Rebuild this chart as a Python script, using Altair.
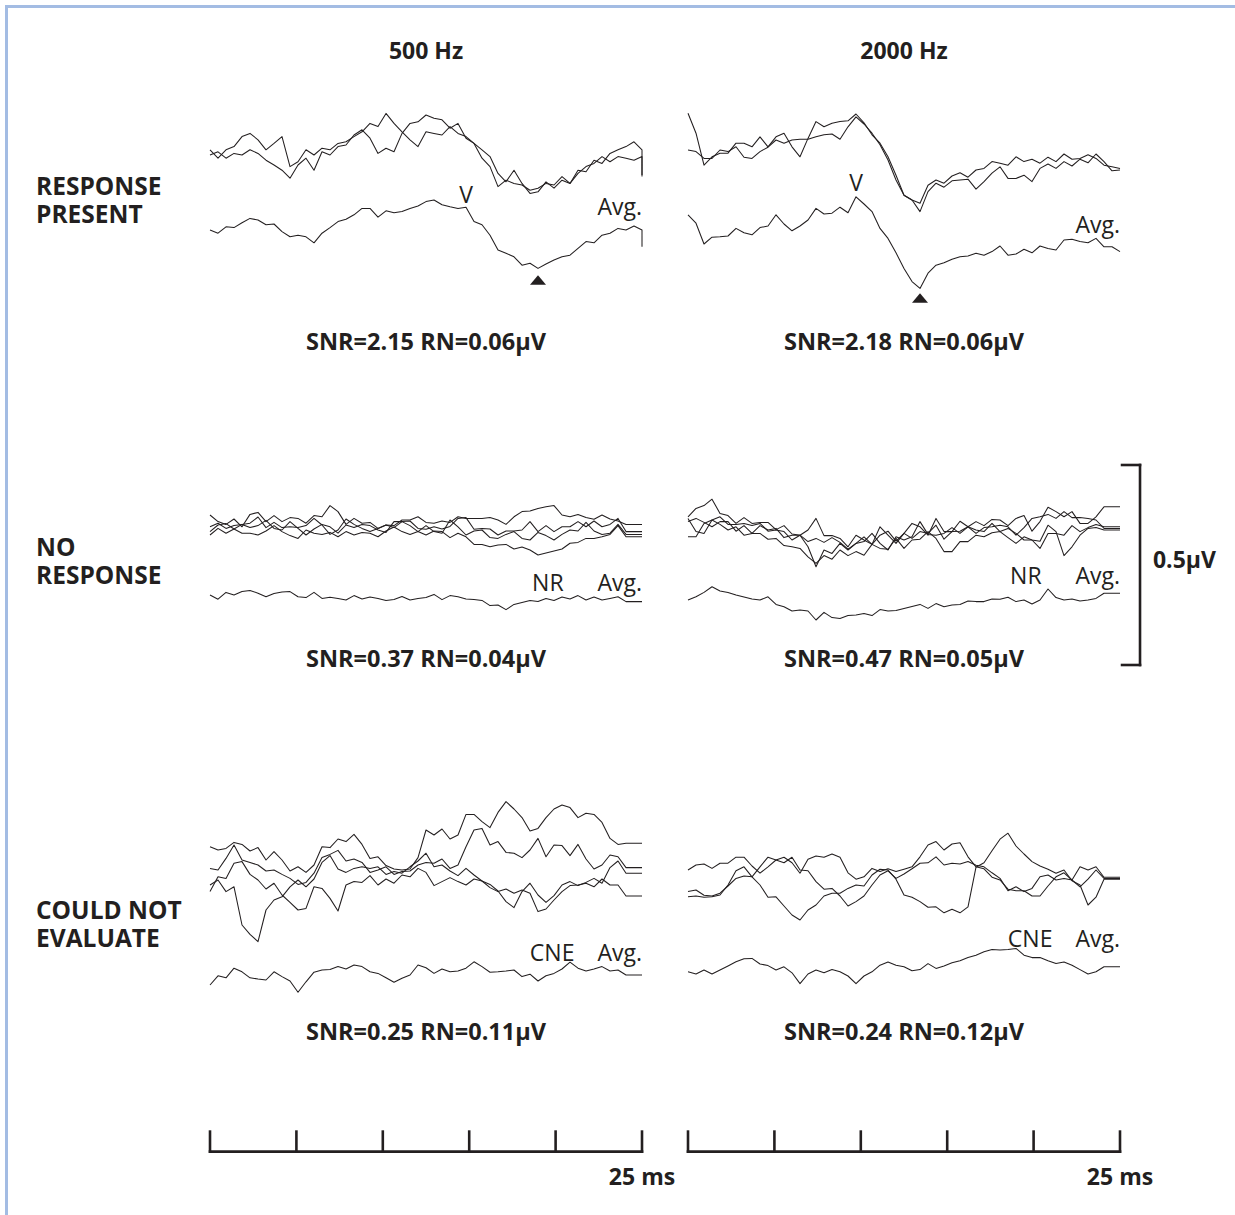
import altair as alt
import numpy as np
import pandas as pd

# ---------------------------------------------------------------------------
# Auditory brainstem recordings: replicate sweeps plus their average (Avg.),
# 25 ms epochs, amplitudes in microvolts relative to each trace's own level.
# ---------------------------------------------------------------------------
N_SAMPLES = 55
SWEEP_MS = 25.0
t_ms = np.linspace(0.0, SWEEP_MS, N_SAMPLES)

# 500 Hz – response present (last value: pen drop at end of sweep)
p1_rep_a = [0.013, -0.008, 0.013, 0.021, 0.046, 0.054, 0.038, 0.013, 0.029, 0.046, -0.029, -0.017, 0.013, 0.0,
            0.017, 0.013, 0.029, 0.033, 0.046, 0.058, 0.079, 0.071, 0.104, 0.079, 0.058, 0.038, 0.021, 0.058,
            0.054, 0.05, 0.071, 0.054, 0.046, 0.029, -0.008, -0.029, -0.079, -0.063, -0.071, -0.075, -0.088,
            -0.083, -0.071, -0.075, -0.054, -0.071, -0.038, -0.042, -0.013, -0.021, 0.004, 0.013, 0.021, 0.033,
            0.013, -0.054]
p1_rep_b = [0.0, 0.008, -0.008, 0.004, 0.0, 0.013, 0.004, -0.013, -0.025, -0.038, -0.058, -0.025, -0.008, -0.038,
            0.008, 0.0, 0.021, 0.025, 0.05, 0.063, 0.042, 0.004, 0.017, 0.008, 0.054, 0.079, 0.083, 0.1, 0.092,
            0.088, 0.067, 0.079, 0.042, 0.029, 0.013, -0.004, -0.046, -0.067, -0.038, -0.071, -0.096, -0.092,
            -0.067, -0.083, -0.063, -0.071, -0.046, -0.029, -0.021, -0.004, -0.017, -0.004, -0.008, -0.013,
            -0.004, -0.05]
p1_avg = [0.0, -0.008, 0.008, 0.006, 0.018, 0.029, 0.025, 0.013, 0.015, -0.004, -0.017, -0.013, -0.017, -0.032,
          -0.008, 0.006, 0.021, 0.027, 0.038, 0.054, 0.054, 0.032, 0.048, 0.043, 0.046, 0.054, 0.06, 0.071, 0.075,
          0.063, 0.058, 0.054, 0.057, 0.021, 0.013, -0.013, -0.05, -0.058, -0.067, -0.088, -0.083, -0.096, -0.085,
          -0.075, -0.067, -0.063, -0.046, -0.029, -0.032, -0.013, -0.008, 0.004, 0.0, 0.01, 0.0, -0.042]

# 2000 Hz – response present
p2_rep_a = [0.117, 0.067, -0.013, 0.008, 0.017, 0.017, 0.042, 0.042, 0.033, 0.058, 0.033, 0.058, 0.067, 0.033,
            0.008, 0.054, 0.096, 0.083, 0.092, 0.096, 0.098, 0.115, 0.093, 0.063, 0.042, 0.008, -0.038, -0.088,
            -0.1, -0.108, -0.063, -0.05, -0.058, -0.04, -0.032, -0.043, -0.025, -0.021, -0.004, -0.008, -0.013,
            0.008, -0.004, 0.002, -0.008, 0.007, -0.004, 0.015, 0.002, 0.004, 0.013, 0.004, -0.013, -0.017, -0.021]
p2_rep_b = [0.025, 0.021, 0.004, 0.004, 0.025, 0.021, 0.033, 0.007, 0.004, 0.021, 0.032, 0.05, 0.042, 0.05, 0.052,
            0.052, 0.058, 0.063, 0.065, 0.052, 0.083, 0.108, 0.09, 0.067, 0.038, 0.0, -0.05, -0.088, -0.1, -0.129,
            -0.079, -0.058, -0.068, -0.052, -0.05, -0.048, -0.073, -0.054, -0.033, -0.017, -0.046, -0.046, -0.038,
            -0.054, -0.021, -0.01, -0.021, -0.004, -0.015, 0.002, -0.007, 0.015, -0.004, -0.027, -0.025]
p2_avg = [0.088, 0.067, 0.015, 0.032, 0.033, 0.035, 0.054, 0.043, 0.038, 0.056, 0.06, 0.088, 0.065, 0.048, 0.06,
          0.075, 0.104, 0.09, 0.092, 0.107, 0.093, 0.133, 0.115, 0.096, 0.054, 0.029, -0.007, -0.046, -0.079,
          -0.096, -0.058, -0.038, -0.032, -0.023, -0.017, -0.015, -0.008, -0.013, -0.004, 0.01, -0.013, -0.01,
          0.002, -0.007, 0.01, 0.004, 0.0, 0.025, 0.027, 0.021, 0.018, 0.029, 0.008, 0.008, -0.004]

# 500 Hz – no response
p3_rep_a = [0.0375, 0.021, 0.014, 0.0275, 0.008, 0.039, 0.044, 0.021, 0.036, 0.021, 0.031, 0.029, 0.017, 0.036,
            0.033, 0.061, 0.046, 0.014, 0.029, 0.017, 0.019, 0.004, 0.0125, 0.011, 0.025, 0.025, 0.033, 0.019,
            0.017, 0.0225, 0.019, 0.033, 0.029, 0.029, 0.029, 0.031, 0.025, 0.014, 0.033, 0.046, 0.0475, 0.054,
            0.058, 0.061, 0.0375, 0.033, 0.039, 0.031, 0.027, 0.0375, 0.0275, 0.0225, 0.014, 0.014, 0.014]
p3_rep_b = [0.008, 0.017, 0.004, 0.011, 0.014, 0.017, 0.0325, 0.006, 0.019, 0.006, 0.008, 0.006, 0.011, 0.029,
            0.0125, -0.011, 0.0, 0.0275, 0.014, 0.004, -0.004, 0.004, 0.0125, 0.006, 0.021, 0.0225, 0.004, 0.002,
            0.008, 0.0025, 0.009, 0.029, 0.031, 0.002, 0.004, 0.0025, -0.0125, -0.0025, -0.0025, 0.0, 0.021,
            -0.004, 0.011, -0.004, 0.008, 0.008, 0.021, 0.008, 0.0225, 0.008, 0.014, 0.029, -0.004, -0.004, -0.004]
p3_rep_c = [-0.0125, 0.004, -0.008, 0.0025, -0.008, -0.008, -0.0125, -0.0025, 0.011, -0.004, -0.014, -0.021, 0.0,
            -0.008, -0.011, -0.006, -0.017, -0.004, -0.0125, -0.006, -0.008, -0.017, -0.0025, 0.0075, -0.004,
            -0.011, -0.004, -0.0125, -0.0025, -0.004, -0.019, -0.008, -0.017, -0.036, -0.036, -0.042, -0.0375,
            -0.036, -0.0475, -0.0425, -0.05, -0.0625, -0.0575, -0.0525, -0.0475, -0.033, -0.031, -0.021, -0.021,
            -0.017, -0.011, 0.011, -0.017, -0.017, -0.017]
p3_rep_d = [-0.004, 0.0125, 0.016, 0.0025, 0.014, 0.006, 0.011, 0.024, 0.004, 0.0, 0.021, 0.004, -0.0125, 0.0025,
            0.014, 0.008, -0.008, 0.0125, 0.006, 0.014, 0.011, 0.0, -0.006, 0.021, 0.021, 0.011, -0.004, 0.011,
            -0.004, -0.008, 0.025, 0.008, -0.0125, -0.0025, 0.0, -0.019, -0.021, -0.011, -0.004, -0.021, -0.025,
            -0.006, -0.014, -0.025, -0.011, 0.0, -0.0025, 0.019, -0.0025, -0.011, -0.008, 0.014, -0.011, -0.011,
            -0.011]
p3_avg = [0.0075, -0.003, 0.014, 0.0075, 0.016, 0.019, 0.012, 0.003, 0.011, 0.015, 0.016, 0.003, 0.001, 0.014,
          -0.001, 0.002, -0.001, -0.005, 0.006, -0.0025, 0.0025, -0.001, -0.006, -0.004, 0.004, -0.005, -0.001,
          0.001, 0.009, -0.004, 0.006, 0.003, -0.0025, -0.004, -0.006, -0.019, -0.0175, -0.029, -0.016, -0.011,
          -0.006, -0.009, -0.001, -0.006, 0.0025, -0.0025, 0.006, -0.005, 0.0025, -0.005, -0.001, 0.003, -0.009,
          -0.009, -0.009]

# 2000 Hz – no response
p4_rep_a = [0.029, 0.05, 0.057, 0.073, 0.0375, 0.032, 0.0125, 0.027, 0.0125, 0.015, 0.015, -0.003, 0.007, -0.014,
            -0.017, -0.004, 0.025, -0.018, -0.018, -0.025, -0.046, -0.017, -0.029, -0.04, 0.004, -0.017, -0.0375,
            -0.0125, 0.0125, 0.004, -0.017, 0.025, -0.008, -0.008, 0.018, 0.004, 0.017, 0.007, 0.0225, 0.021,
            0.007, 0.025, 0.032, -0.007, 0.017, 0.053, 0.042, 0.029, 0.042, 0.0125, 0.0125, 0.029, 0.054, 0.054,
            0.054]
p4_rep_b = [0.025, -0.008, -0.0125, 0.021, 0.029, 0.01, 0.01, 0.0125, 0.007, 0.0125, -0.007, -0.004, -0.008,
            -0.029, -0.017, -0.046, -0.096, -0.054, -0.0625, -0.0375, -0.054, -0.0375, -0.033, -0.0125, -0.0375,
            -0.054, -0.021, -0.029, -0.021, 0.017, -0.015, -0.017, -0.0125, 0.002, -0.0125, 0.004, -0.004, -0.008,
            0.0125, -0.008, 0.0, -0.0125, -0.029, -0.029, -0.05, -0.0125, -0.0125, -0.017, 0.007, -0.008, 0.002,
            0.01, 0.004, 0.004, 0.004]
p4_rep_c = [-0.021, -0.021, 0.0125, 0.021, 0.01, -0.004, 0.004, -0.017, -0.0125, -0.0125, -0.027, -0.025, -0.043,
            -0.046, -0.05, -0.071, -0.0875, -0.068, -0.077, -0.054, -0.068, -0.058, -0.067, -0.04, -0.05, -0.052,
            -0.025, -0.05, -0.029, -0.027, -0.008, -0.025, -0.058, -0.058, -0.033, -0.033, -0.017, -0.021, -0.011,
            -0.008, -0.023, -0.0375, -0.021, -0.029, -0.032, 0.008, -0.008, -0.068, -0.046, -0.017, 0.0, 0.002,
            -0.004, -0.004, -0.004]
p4_rep_d = [0.017, 0.025, 0.015, 0.004, 0.017, 0.017, -0.007, 0.007, -0.0125, 0.007, -0.004, 0.0, -0.023, -0.017,
            -0.017, -0.033, -0.025, -0.035, -0.023, -0.035, -0.052, -0.0375, -0.021, -0.04, -0.017, -0.007, -0.032,
            -0.0125, -0.025, -0.008, -0.0125, 0.008, -0.027, -0.008, -0.007, 0.004, -0.0125, 0.002, 0.004, 0.008,
            0.004, -0.017, 0.002, 0.025, 0.029, 0.035, 0.025, 0.042, 0.027, 0.027, 0.025, 0.021, 0.0, 0.0, 0.0]
p4_avg = [0.0, 0.008, 0.019, 0.033, 0.0225, 0.019, 0.0125, 0.0075, 0.0025, 0.0, 0.008, -0.011, -0.017, -0.0275,
          -0.025, -0.0275, -0.05, -0.031, -0.044, -0.046, -0.039, -0.0375, -0.034, -0.039, -0.024, -0.0275, -0.026,
          -0.021, -0.016, -0.011, -0.021, -0.009, -0.017, -0.0125, -0.011, -0.0025, -0.004, -0.004, 0.0025, 0.002,
          0.007, -0.004, 0.0, -0.01, 0.0, 0.0275, 0.006, 0.0, 0.0025, -0.0025, 0.0, 0.004, 0.017, 0.017, 0.017]

# 500 Hz – could not evaluate
p5_rep_a = [0.058, 0.05, 0.054, 0.069, 0.064, 0.0475, 0.056, 0.025, 0.046, 0.025, -0.0025, 0.008, -0.006, 0.0125,
            0.058, 0.056, 0.0775, 0.071, 0.089, 0.064, 0.029, 0.033, 0.011, 0.0025, 0.0, 0.0025, 0.031, 0.1, 0.0875,
            0.1025, 0.0775, 0.0875, 0.139, 0.139, 0.121, 0.106, 0.144, 0.171, 0.1525, 0.131, 0.0975, 0.104, 0.131,
            0.1525, 0.1625, 0.156, 0.131, 0.142, 0.139, 0.119, 0.079, 0.064, 0.067, 0.067, 0.067]
p5_rep_b = [0.004, 0.0, 0.029, 0.0625, 0.025, 0.019, 0.0125, -0.0025, 0.0, -0.011, -0.021, -0.036, -0.031, -0.008,
            0.031, 0.039, 0.049, 0.0225, 0.0275, 0.019, -0.006, 0.0, 0.008, -0.011, -0.004, -0.0025, 0.0125, 0.019,
            0.017, 0.0275, 0.004, 0.0125, 0.058, 0.1, 0.104, 0.0625, 0.071, 0.044, 0.042, 0.031, 0.05, 0.079,
            0.033, 0.0625, 0.061, 0.036, 0.064, 0.0275, 0.0025, 0.0125, 0.0375, 0.033, 0.006, 0.006, 0.006]
p5_rep_c = [-0.0375, -0.025, -0.054, -0.042, -0.1375, -0.161, -0.179, -0.1, -0.075, -0.067, -0.042, -0.025, -0.042,
            -0.0225, 0.019, 0.036, 0.0025, -0.006, 0.004, 0.008, 0.004, 0.008, -0.011, -0.004, -0.008, 0.008,
            0.0225, 0.042, 0.008, 0.0125, -0.0025, -0.014, 0.004, -0.0125, -0.0275, -0.036, -0.0525, -0.079,
            -0.094, -0.054, -0.033, -0.0625, -0.081, -0.064, -0.0375, -0.029, -0.039, -0.031, -0.021, -0.033,
            0.006, 0.0225, -0.008, -0.008, -0.008]
p5_rep_d = [-0.054, -0.017, -0.021, 0.017, 0.021, -0.011, -0.025, -0.0475, -0.033, -0.0625, -0.081, -0.1, -0.096,
            -0.042, -0.046, -0.071, -0.1025, -0.0375, -0.029, -0.031, -0.014, -0.0375, -0.0225, -0.033, -0.0125,
            -0.017, 0.004, -0.006, -0.039, -0.029, -0.019, -0.029, -0.0375, -0.0225, -0.0275, -0.044, -0.054,
            -0.0475, -0.058, -0.05, -0.058, -0.104, -0.0975, -0.075, -0.054, -0.039, -0.0375, -0.033, -0.042,
            -0.0225, -0.0375, -0.0375, -0.065, -0.065, -0.065]
p5_avg = [-0.025, -0.002, -0.007, 0.017, 0.008, -0.007, -0.01, -0.0125, 0.008, -0.004, -0.015, -0.043, -0.017,
          0.007, 0.0125, 0.014, 0.021, 0.015, 0.025, 0.021, 0.008, 0.004, -0.007, -0.018, -0.008, 0.0, 0.025,
          0.018, 0.004, 0.015, 0.008, 0.01, 0.017, 0.033, 0.021, 0.007, 0.008, 0.01, 0.0125, -0.004, 0.002, -0.015,
          -0.002, 0.004, 0.015, 0.032, 0.017, 0.01, 0.015, 0.021, 0.01, 0.0125, 0.0, 0.0, 0.0]

# 2000 Hz – could not evaluate
p6_rep_a = [0.025, 0.0375, 0.04, 0.029, 0.042, 0.042, 0.057, 0.057, 0.035, 0.017, 0.033, 0.05, 0.057, 0.043, 0.017,
            0.052, 0.06, 0.057, 0.065, 0.057, 0.018, 0.002, 0.008, 0.029, 0.021, 0.028, 0.021, 0.027, 0.033, 0.058,
            0.0875, 0.096, 0.075, 0.09, 0.093, 0.058, 0.033, 0.028, 0.007, 0.0, -0.023, -0.027, -0.027, -0.04,
            -0.04, -0.015, 0.008, 0.018, 0.0, 0.033, 0.025, 0.033, 0.007, 0.007, 0.007]
p6_rep_b = [-0.029, -0.025, -0.038, -0.04, -0.033, -0.015, 0.004, 0.01, 0.008, 0.033, 0.057, 0.05, 0.043, 0.057,
            0.025, 0.023, -0.004, -0.023, -0.021, -0.04, -0.065, -0.054, -0.04, -0.0125, 0.0125, 0.023, 0.004,
            0.015, 0.028, 0.042, 0.043, 0.058, 0.0375, 0.042, 0.04, 0.046, 0.037, 0.033, 0.018, 0.004, -0.027,
            -0.017, -0.029, -0.021, 0.008, 0.0125, 0.0, 0.004, 0.0, -0.017, 0.002, 0.025, 0.004, 0.004, 0.004]
p6_rep_c = [-0.042, -0.04, -0.043, -0.042, -0.0375, -0.0125, 0.023, 0.033, 0.008, -0.0125, -0.043, -0.042, -0.065,
            -0.0875, -0.1, -0.075, -0.0625, -0.04, -0.033, -0.033, -0.021, -0.0125, -0.015, 0.0125, 0.027, 0.025,
            0.002, -0.0375, -0.043, -0.054, -0.068, -0.067, -0.082, -0.073, -0.082, -0.067, 0.032, 0.043, 0.073,
            0.102, 0.117, 0.085, 0.065, 0.046, 0.035, 0.027, 0.017, 0.025, -0.002, -0.0125, -0.0625, -0.043, 0.002,
            0.002, 0.002]
p6_avg = [-0.0125, -0.018, -0.008, -0.018, -0.008, 0.002, 0.0125, 0.02, 0.021, 0.007, 0.003, -0.008, 0.0, -0.015,
          -0.042, -0.018, -0.008, -0.015, -0.007, -0.0125, -0.023, -0.042, -0.023, -0.0125, 0.004, 0.012, 0.004,
          0.0, -0.01, -0.007, 0.008, -0.004, 0.002, 0.01, 0.015, 0.023, 0.029, 0.0375, 0.043, 0.042, 0.043, 0.046,
          0.029, 0.023, 0.023, 0.015, 0.008, 0.012, 0.004, -0.007, -0.018, -0.0125, 0.0, 0.0, 0.0]

COLUMN_TITLES = ["500 Hz", "2000 Hz"]
ROW_TITLES = ["RESPONSE\nPRESENT", "NO\nRESPONSE", "COULD NOT\nEVALUATE"]
STATUS = ["", "NR", "CNE"]
SNR_TEXT = [
    ["SNR=2.15 RN=0.06μV", "SNR=2.18 RN=0.06μV"],
    ["SNR=0.37 RN=0.04μV", "SNR=0.47 RN=0.05μV"],
    ["SNR=0.25 RN=0.11μV", "SNR=0.24 RN=0.12μV"],
]
WAVE_V_SAMPLE = [32, 21]      # wave V latency sample (response-present row)
TROUGH_SAMPLE = [41, 29]      # following trough, marked with ▲

# ---------------------------------------------------------------------------
# Layout (time in ms, voltage in μV; page runs from 0 μV downwards)
# ---------------------------------------------------------------------------
MS_SPAN = 71.47
X_MIN = -12.153
X_MAX = X_MIN + MS_SPAN
Y_MIN, Y_MAX = -3.0375, 0.0
COL_SHIFT = [0.0, 27.662]

# (row, column, replicate sweeps, average, sweep level, average level)
PANELS = [
    (0, 0, [p1_rep_a, p1_rep_b], p1_avg, -0.3875, -0.575),
    (0, 1, [p2_rep_a, p2_rep_b], p2_avg, -0.400, -0.625),
    (1, 0, [p3_rep_a, p3_rep_b, p3_rep_c, p3_rep_d], p3_avg, -1.325, -1.495),
    (1, 1, [p4_rep_a, p4_rep_b, p4_rep_c, p4_rep_d], p4_avg, -1.321, -1.500),
    (2, 0, [p5_rep_a, p5_rep_b, p5_rep_c, p5_rep_d], p5_avg, -2.175, -2.4375),
    (2, 1, [p6_rep_a, p6_rep_b, p6_rep_c], p6_avg, -2.200, -2.417),
]
AVG_LABEL_Y = {(0, 0): -0.5375, (0, 1): -0.5825, (1, 0): -1.4775, (1, 1): -1.46, (2, 0): -2.4025, (2, 1): -2.3675}
ROW_TITLE_Y = [-0.4875, -1.39, -2.2975]
SNR_Y = [-0.875, -1.6675, -2.6]

INK = "#231f20"
FRAME = "#a3bce3"
FONT = "Open Sans"

xs = alt.Scale(domain=[X_MIN, X_MAX], nice=False, zero=False)
ys = alt.Scale(domain=[Y_MIN, Y_MAX], nice=False, zero=False)
X = alt.X("x:Q", scale=xs, axis=None)
Y = alt.Y("y:Q", scale=ys, axis=None)
X2 = alt.X2("x2:Q")
Y2 = alt.Y2("y2:Q")

# ---- waveforms ----
rows = []
for row, col, reps, avg, rep_lvl, avg_lvl in PANELS:
    for j, (vals, lvl) in enumerate([(r, rep_lvl) for r in reps] + [(avg, avg_lvl)]):
        times = list(t_ms) + [SWEEP_MS] * (len(vals) - N_SAMPLES)
        for i, (t, v) in enumerate(zip(times, vals)):
            rows.append({"trace": f"{row}-{col}-{j}", "i": i, "x": COL_SHIFT[col] + t, "y": lvl + v})
waves = pd.DataFrame(rows)

wave_layer = alt.Chart(waves).mark_line(color=INK, strokeWidth=1.05, strokeJoin="round").encode(
    x=X, y=Y, detail="trace:N", order=alt.Order("i:Q")
)


def text_layer(df, size, weight="normal", align="center", line_height=None):
    kwargs = dict(font=FONT, fontSize=size, fontWeight=weight, align=align, baseline="alphabetic", color=INK)
    if line_height is not None:
        kwargs.update(lineBreak="\n", lineHeight=line_height)
    return alt.Chart(df).mark_text(**kwargs).encode(x=X, y=Y, text="text:N")


# ---- titles ----
col_titles = pd.DataFrame({"x": [c + SWEEP_MS / 2 for c in COL_SHIFT], "y": [-0.1475, -0.1475],
                           "text": COLUMN_TITLES})
row_titles = pd.DataFrame({"x": [-10.069] * 3, "y": ROW_TITLE_Y, "text": ROW_TITLES})
snr = pd.DataFrame([
    {"x": COL_SHIFT[c] + SWEEP_MS / 2, "y": SNR_Y[r], "text": SNR_TEXT[r][c]} for r in range(3) for c in range(2)
])

# ---- trace annotations ----
avg_labels = pd.DataFrame([
    {"x": COL_SHIFT[c] + SWEEP_MS, "y": AVG_LABEL_Y[(r, c)], "text": "Avg."} for r in range(3) for c in range(2)
])
status_x = {"NR": 19.55, "CNE": 19.8}
status_labels = pd.DataFrame([
    {"x": COL_SHIFT[c] + status_x[STATUS[r]], "y": AVG_LABEL_Y[(r, c)], "text": STATUS[r]}
    for r in (1, 2) for c in range(2)
])
v_labels = pd.DataFrame({
    "x": [COL_SHIFT[c] + t_ms[WAVE_V_SAMPLE[c]] for c in range(2)],
    "y": [-0.5075, -0.4768], "text": ["V", "V"],
})
troughs = pd.DataFrame({
    "x": [COL_SHIFT[c] + t_ms[TROUGH_SAMPLE[c]] for c in range(2)],
    "y": [-0.70, -0.745],
})
trough_layer = alt.Chart(troughs).mark_point(
    shape="M-1,0.6L1,0.6L0,-0.6Z", filled=True, size=256, color=INK, opacity=1, strokeWidth=0
).encode(x=X, y=Y)

# ---- calibration bars: 0.5 μV and 5 ms divisions ----
UV_BAR_X, UV_BAR_TOP, UV_BAR_LEN, UV_TICK_X = 53.82, -1.1625, 0.5, 52.78
uv_bar = pd.DataFrame([
    {"x": UV_BAR_X, "x2": UV_BAR_X, "y": UV_BAR_TOP, "y2": UV_BAR_TOP - UV_BAR_LEN},
    {"x": UV_TICK_X, "x2": UV_BAR_X, "y": UV_BAR_TOP, "y2": UV_BAR_TOP},
    {"x": UV_TICK_X, "x2": UV_BAR_X, "y": UV_BAR_TOP - UV_BAR_LEN, "y2": UV_BAR_TOP - UV_BAR_LEN},
])
uv_label = pd.DataFrame({"x": [54.57], "y": [-1.42], "text": ["0.5μV"]})

TIME_BAR_Y, TIME_TICK_Y = -2.879, -2.829
time_ticks_ms = [0, 5, 10, 15, 20, 25]
time_rows = []
for c in COL_SHIFT:
    time_rows.append({"x": c, "x2": c + SWEEP_MS, "y": TIME_BAR_Y, "y2": TIME_BAR_Y})
    for tk in time_ticks_ms:
        time_rows.append({"x": c + tk, "x2": c + tk, "y": TIME_BAR_Y, "y2": TIME_TICK_Y})
time_bar = pd.DataFrame(time_rows)
time_labels = pd.DataFrame({"x": [c + SWEEP_MS for c in COL_SHIFT], "y": [-2.9625, -2.9625],
                            "text": ["25 ms", "25 ms"]})

bars = pd.concat([uv_bar, time_bar], ignore_index=True)
bar_layer = alt.Chart(bars).mark_rule(color=INK, strokeWidth=2.6, strokeCap="square").encode(
    x=X, x2=X2, y=Y, y2=Y2
)

# ---- page frame (left and top edge) ----
FRAME_X, FRAME_Y = -11.777, -0.01625
frame = pd.DataFrame([
    {"x": FRAME_X, "x2": FRAME_X, "y": FRAME_Y, "y2": Y_MIN},
    {"x": FRAME_X, "x2": X_MAX, "y": FRAME_Y, "y2": FRAME_Y},
])
frame_layer = alt.Chart(frame).mark_rule(color=FRAME, strokeWidth=3, strokeCap="square").encode(
    x=X, x2=X2, y=Y, y2=Y2
)

chart = alt.layer(
    frame_layer,
    wave_layer,
    trough_layer,
    bar_layer,
    text_layer(col_titles, 23, "bold"),
    text_layer(row_titles, 24.5, "bold", "left", line_height=28),
    text_layer(snr, 23.5, "bold"),
    text_layer(avg_labels, 23, "normal", "right"),
    text_layer(status_labels, 23, "normal"),
    text_layer(v_labels, 23, "normal"),
    text_layer(uv_label, 23, "bold", "left"),
    text_layer(time_labels, 23, "bold"),
).properties(
    width=1235, height=1215, autosize=alt.AutoSizeParams(type="none"), padding=0, background="white"
).configure_view(strokeWidth=0)

chart.save("out.html", embed_options={"renderer": "svg", "actions": False})
